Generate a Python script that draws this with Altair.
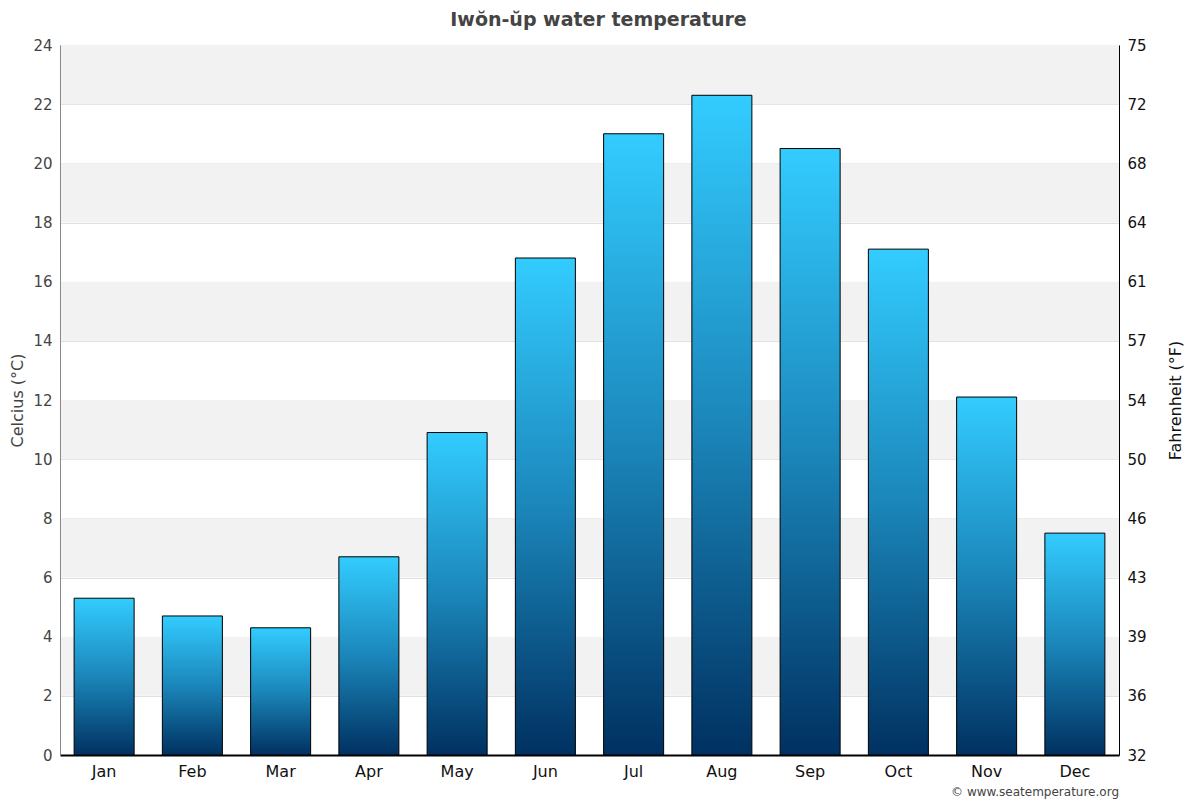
import altair as alt
import pandas as pd

months = ["Jan", "Feb", "Mar", "Apr", "May", "Jun", "Jul", "Aug", "Sep", "Oct", "Nov", "Dec"]
temps_c = [5.3, 4.7, 4.3, 6.7, 10.9, 16.8, 21.0, 22.3, 20.5, 17.1, 12.1, 7.5]
band_lo = [2, 6, 10, 14, 18, 22]
band_hi = [4, 8, 12, 16, 20, 24]
tick_c = list(range(0, 25, 2))

W, H = 1059, 710
FONT = "DejaVu Sans"

df = pd.DataFrame({"month": months, "temp": temps_c})
bands_df = pd.DataFrame({"lo": band_lo, "hi": band_hi})
credit_df = pd.DataFrame({"t": ["© www.seatemperature.org"]})

yscale = alt.Scale(domain=[0, 24], nice=False, zero=True)

left_axis = alt.Axis(title="Celcius (°C)", values=tick_c, titleFontSize=16,
                     titleFont=FONT, titleFontWeight="normal", titleColor="#444444",
                     titleAngle=270, titleX=-43, titleY=H / 2, titleAlign="center",
                     titleBaseline="middle",
                     labelFontSize=15, labelFont=FONT, labelColor="#444444",
                     domainColor="#888888", domainWidth=1, ticks=False,
                     labelPadding=8, grid=True, gridColor="#e0e0e0")

bands = alt.Chart(bands_df).mark_rect(color="#f2f2f2").encode(
    x=alt.value(1), x2=alt.value(W),
    y=alt.Y("lo:Q", scale=yscale, axis=left_axis),
    y2="hi:Q",
)

grad = alt.Gradient(
    gradient="linear",
    stops=[
        alt.GradientStop(color="#003161", offset=0),
        alt.GradientStop(color="#1b86ba", offset=0.5),
        alt.GradientStop(color="#33ccff", offset=1),
    ],
    x1=0, x2=0, y1=1, y2=0,
)

bars = alt.Chart(df).mark_bar(fill=grad, stroke="#000000", strokeWidth=1).encode(
    x=alt.X("month:N", sort=months,
            scale=alt.Scale(paddingInner=0.32, paddingOuter=0.16),
            axis=alt.Axis(title=None, labelAngle=0, labelFontSize=16, labelColor="#111111",
                          labelFont=FONT, domainColor="#000000", domainWidth=2,
                          ticks=False, labelPadding=8, grid=False)),
    y=alt.Y("temp:Q", scale=yscale, axis=left_axis),
)

credit = alt.Chart(credit_df).mark_text(
    align="right", baseline="alphabetic", fontSize=12, font=FONT, color="#444444"
).encode(x=alt.value(W), y=alt.value(H + 41), text="t:N")

left = alt.layer(bands, bars, credit)

right = alt.Chart(df).mark_point(opacity=0).encode(
    x=alt.X("month:N", sort=months),
    y=alt.Y("temp:Q", scale=yscale,
            axis=alt.Axis(orient="right", title="Fahrenheit (°F)", values=tick_c,
                          labelExpr="round(datum.value*9/5+32)",
                          titleFontSize=16, titleFont=FONT, titleFontWeight="normal",
                          titleColor="#111111", titleAngle=270, titleX=56, titleY=H / 2,
                          titleAlign="center", titleBaseline="middle",
                          labelFontSize=15, labelFont=FONT,
                          labelColor="#111111", domainColor="#000000", domainWidth=1,
                          ticks=False, labelPadding=8, grid=False)),
)

chart = alt.layer(left, right).resolve_scale(y="independent").properties(
    width=W, height=H,
    title=alt.TitleParams("Iwŏn-ŭp water temperature", font=FONT, fontSize=19,
                          fontWeight="bold", color="#444444", anchor="middle",
                          frame="group", dx=9, offset=8),
    autosize=alt.AutoSizeParams(type="none"),
    padding={"left": 52, "top": 37, "right": 72, "bottom": 44},
).configure_view(stroke=None).configure(background="white")

chart.save("out.html", embed_options={"renderer": "svg", "actions": False})
